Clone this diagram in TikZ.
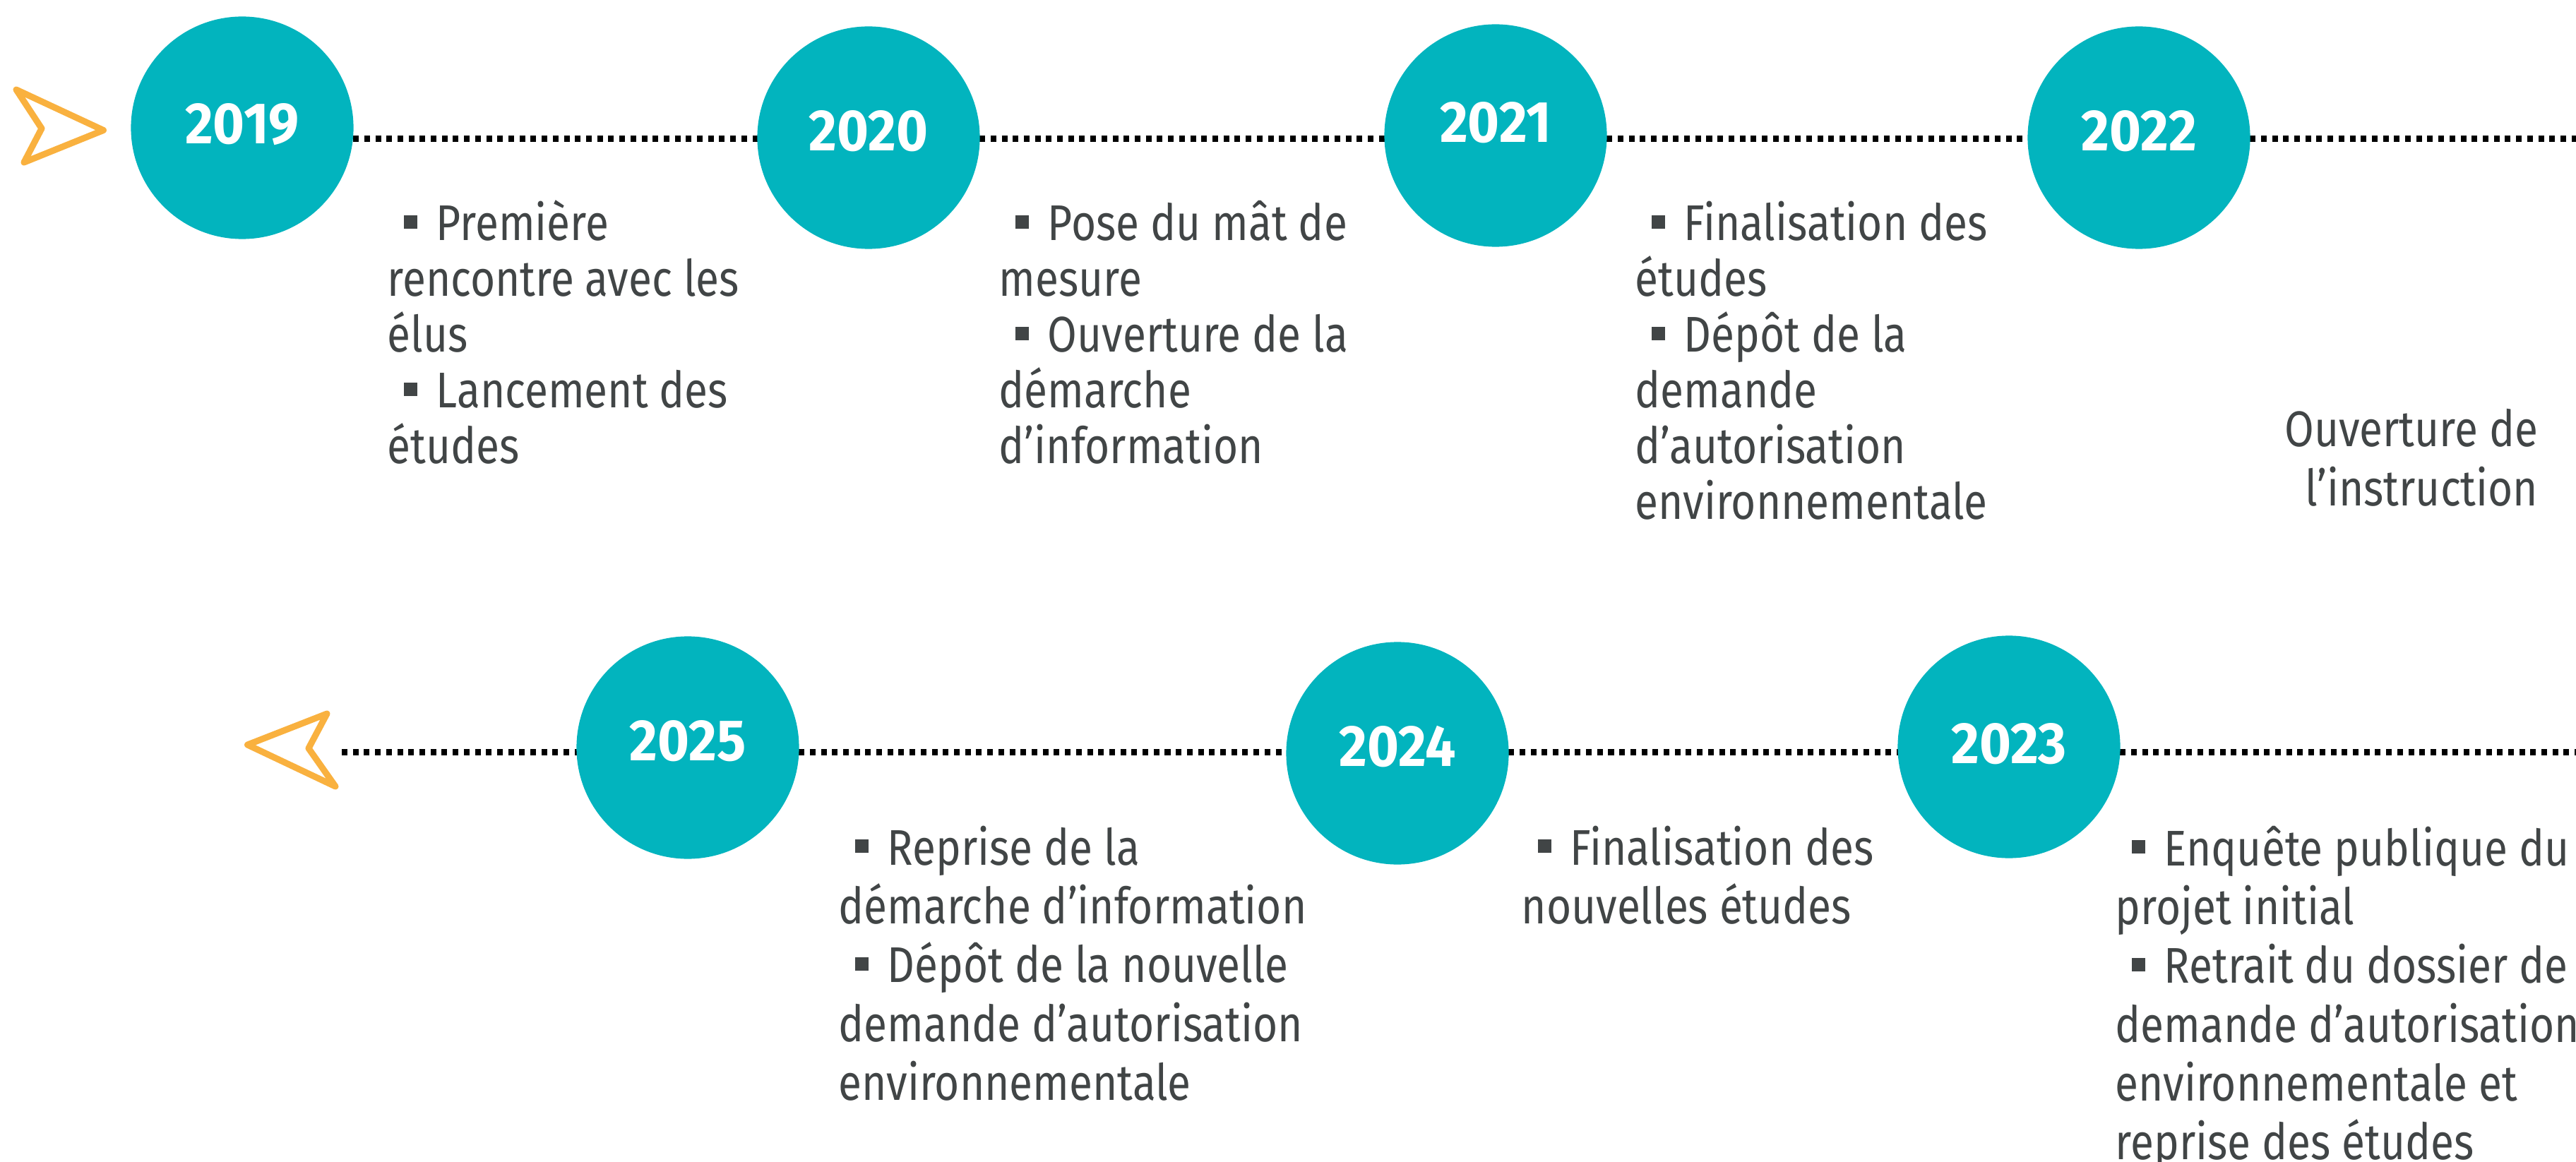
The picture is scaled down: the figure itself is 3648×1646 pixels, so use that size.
\documentclass[tikz,border=0pt]{standalone}
\usepackage{fontspec}
\setmainfont{Fira Sans}
\newfontfamily\bodyfont{Fira Sans}[FakeStretch=0.85]
\newfontfamily\yearfont{Fira Sans}[FakeStretch=0.93]
\definecolor{tealc}{HTML}{02B4BE}
\definecolor{orangec}{HTML}{F9B13F}
\definecolor{grayc}{HTML}{414546}
\pgfdeclarelayer{bg}
\pgfsetlayers{bg,main}
\newcommand{\bul}{\hspace*{0.23cm}\rule[0.17cm]{0.19cm}{0.185cm}\hspace*{0.27cm}}
\begin{document}
\begin{tikzpicture}[x=0.01cm,y=-0.01cm,
  yearc/.style={circle, fill=tealc, inner sep=0pt, minimum size=3.15cm, text=white,
    font=\yearfont\bfseries\fontsize{23.5pt}{26pt}\selectfont, text depth=0.2cm},
  dotline/.style={line width=0.09cm, dash pattern=on 0.08cm off 0.077cm, black},
  arrowc/.style={draw=orangec, line width=0.09cm, line join=round},
  txt/.style={inner sep=0pt, text=grayc, font=\bodyfont\fontsize{20.2pt}{22.42pt}\selectfont},
  txtb/.style={inner sep=0pt, text=grayc, font=\bodyfont\fontsize{20.2pt}{23.7pt}\selectfont}
]
\useasboundingbox (0,0) rectangle (3648,1646);
\clip (0,0) rectangle (3648,1646);

% year circles
\node[yearc, text depth=0.12cm] (c2019) at (343,181) {2019};
\node[yearc] (c2020) at (1230,195) {2020};
\node[yearc, text depth=0.38cm] (c2021) at (2118,192) {2021};
\node[yearc] (c2022) at (3029,195) {2022};
\node[yearc] (c2025) at (974,1059) {2025};
\node[yearc] (c2024) at (1979,1067) {2024};
\node[yearc, text depth=0.1cm] (c2023) at (2845,1058) {2023};

% helper coordinates
\coordinate (topy) at (0,197);
\coordinate (boty) at (0,1065);
\coordinate (topend) at (3670,197);
\coordinate (botstart) at (484,1065);
\coordinate (botend) at (3670,1065);

% dotted timeline
\begin{pgfonlayer}{bg}
\draw[dotline] (c2019.center |- topy) -- (c2020.center |- topy);
\draw[dotline] (c2020.center |- topy) -- (c2021.center |- topy);
\draw[dotline] (c2021.center |- topy) -- (c2022.center |- topy);
\draw[dotline] (c2022.center |- topy) -- (topend);
\draw[dotline] (botstart) -- (c2025.center |- boty);
\draw[dotline] (c2025.center |- boty) -- (c2024.center |- boty);
\draw[dotline] (c2024.center |- boty) -- (c2023.center |- boty);
\draw[dotline] (c2023.center |- boty) -- (botend);
\end{pgfonlayer}

% orange arrowheads
\draw[arrowc] (23,127) -- (146.5,184.5) -- (34,230) -- (59,182) -- cycle;
\draw[arrowc] (350.5,1055) -- (463,1011) -- (437,1060) -- (475,1114) -- cycle;

% texts, top row
\node[txt, anchor=base west] (t2019) at (548,341) {\parbox[t]{9cm}{\raggedright
  \bul Première\\ rencontre avec les\\ élus\\ \bul Lancement des\\ études}};
\node[txt, anchor=base west] (t2020) at (1414,341) {\parbox[t]{9cm}{\raggedright
  \bul Pose du mât de\\ mesure\\ \bul Ouverture de la\\ démarche\\ d’information}};
\node[txt, anchor=base west] (t2021) at (2315,341) {\parbox[t]{9cm}{\raggedright
  \bul Finalisation des\\ études\\ \bul Dépôt de la\\ demande\\ d’autorisation\\ environnementale}};
\node[txtb, anchor=base east] (t2022) at (3595,633) {\parbox[t]{6cm}{\raggedleft
  Ouverture de\\ l’instruction}};

% texts, bottom row
\node[txtb, anchor=base west] (t2025) at (1187,1225) {\parbox[t]{9cm}{\raggedright
  \bul Reprise de la\\ démarche d’information\\ \bul Dépôt de la nouvelle\\ demande d’autorisation\\ environnementale}};
\node[txtb, anchor=base west] (t2024) at (2154,1225) {\parbox[t]{9cm}{\raggedright
  \bul Finalisation des\\ nouvelles études}};
\node[txtb, anchor=base west] (t2023) at (2995,1226) {\parbox[t]{9cm}{\raggedright
  \bul Enquête publique du\\ projet initial\\ \bul Retrait du dossier de\\ demande d’autorisation\\ environnementale et\\ reprise des études}};
\end{tikzpicture}
\end{document}
